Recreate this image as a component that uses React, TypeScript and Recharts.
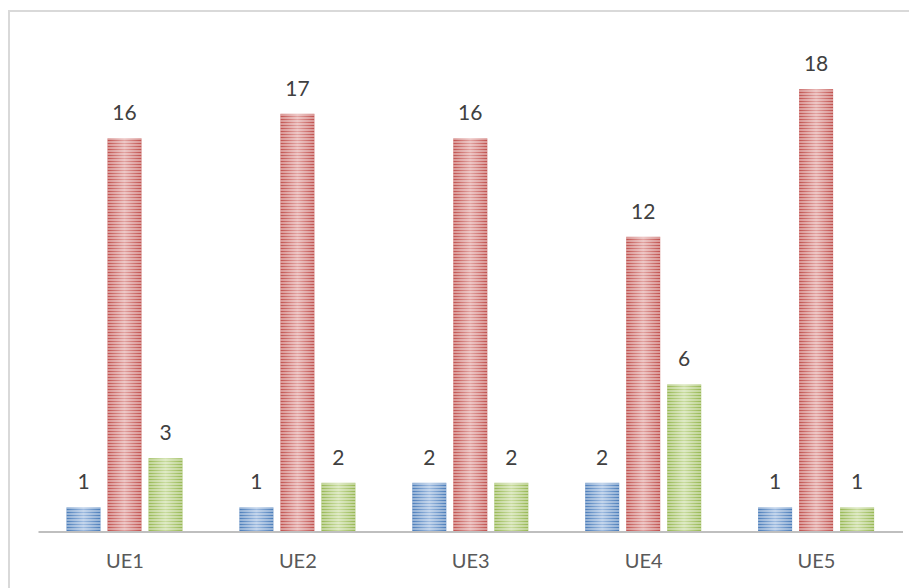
import React from 'react';
import { BarChart, Bar, XAxis, YAxis, LabelList } from 'recharts';

const categories = ['UE1', 'UE2', 'UE3', 'UE4', 'UE5'];
const seriesA = [1, 1, 2, 2, 1];
const seriesB = [16, 17, 16, 12, 18];
const seriesC = [3, 2, 2, 6, 1];

const data = categories.map((name, i) => ({ name, a: seriesA[i], b: seriesB[i], c: seriesC[i] }));

// edge colour / lighter middle for each series
const palette: Record<string, [string, string]> = {
  a: ['#4a7cb9', '#9ebbe0'],
  b: ['#c0504d', '#e2a3a1'],
  c: ['#96b752', '#c9dc9f'],
};

const stripedShape = (key: string) => (props: any) => {
  const { x, y, width, height } = props;
  if (!height || height <= 0) return <g />;
  return (
    <g>
      <rect x={x} y={y} width={width} height={height} fill={`url(#grad-${key})`} />
      <rect x={x} y={y} width={width} height={height} fill="url(#stripes)" />
    </g>
  );
};

const Defs = () => (
  <svg width={0} height={0} style={{ position: 'absolute' }}>
    <defs>
      {Object.entries(palette).map(([k, [edge, mid]]) => (
        <linearGradient key={k} id={`grad-${k}`} x1="0" y1="0" x2="1" y2="0">
          <stop offset="0%" stopColor={edge} />
          <stop offset="50%" stopColor={mid} />
          <stop offset="100%" stopColor={edge} />
        </linearGradient>
      ))}
      <pattern id="stripes" width={6} height={3} patternUnits="userSpaceOnUse">
        <rect x={0} y={0} width={6} height={2} fill="#ffffff" fillOpacity={0.4} />
      </pattern>
    </defs>
  </svg>
);

const labelStyle = { fill: '#404040', fontSize: 21, fontFamily: 'Lato, sans-serif' };

export default function App() {
  return (
    <div
      style={{
        position: 'relative',
        width: 909,
        height: 576,
        marginTop: 2,
        borderTop: '2px solid #d9d9d9',
        borderLeft: '2px solid #d9d9d9',
        background: '#ffffff',
      }}
    >
      <Defs />
      <BarChart
        width={907}
        height={576}
        data={data}
        margin={{ top: 28, right: 14, bottom: 26, left: 28.5 }}
        barSize={34}
        barGap={7}
      >
        <XAxis
          dataKey="name"
          height={30}
          tickLine={false}
          tickSize={0}
          tickMargin={22}
          axisLine={{ stroke: '#bfbfbf', strokeWidth: 2 }}
          tick={{ fill: '#595959', fontSize: 20, fontFamily: 'Lato, sans-serif' }}
        />
        <YAxis hide domain={[0, 20]} />
        <Bar dataKey="a" fill="#4f81bd" shape={stripedShape('a')} isAnimationActive={false}>
          <LabelList dataKey="a" position="top" offset={18} style={labelStyle} />
        </Bar>
        <Bar dataKey="b" fill="#c0504d" shape={stripedShape('b')} isAnimationActive={false}>
          <LabelList dataKey="b" position="top" offset={18} style={labelStyle} />
        </Bar>
        <Bar dataKey="c" fill="#9bbb59" shape={stripedShape('c')} isAnimationActive={false}>
          <LabelList dataKey="c" position="top" offset={18} style={labelStyle} />
        </Bar>
      </BarChart>
    </div>
  );
}
